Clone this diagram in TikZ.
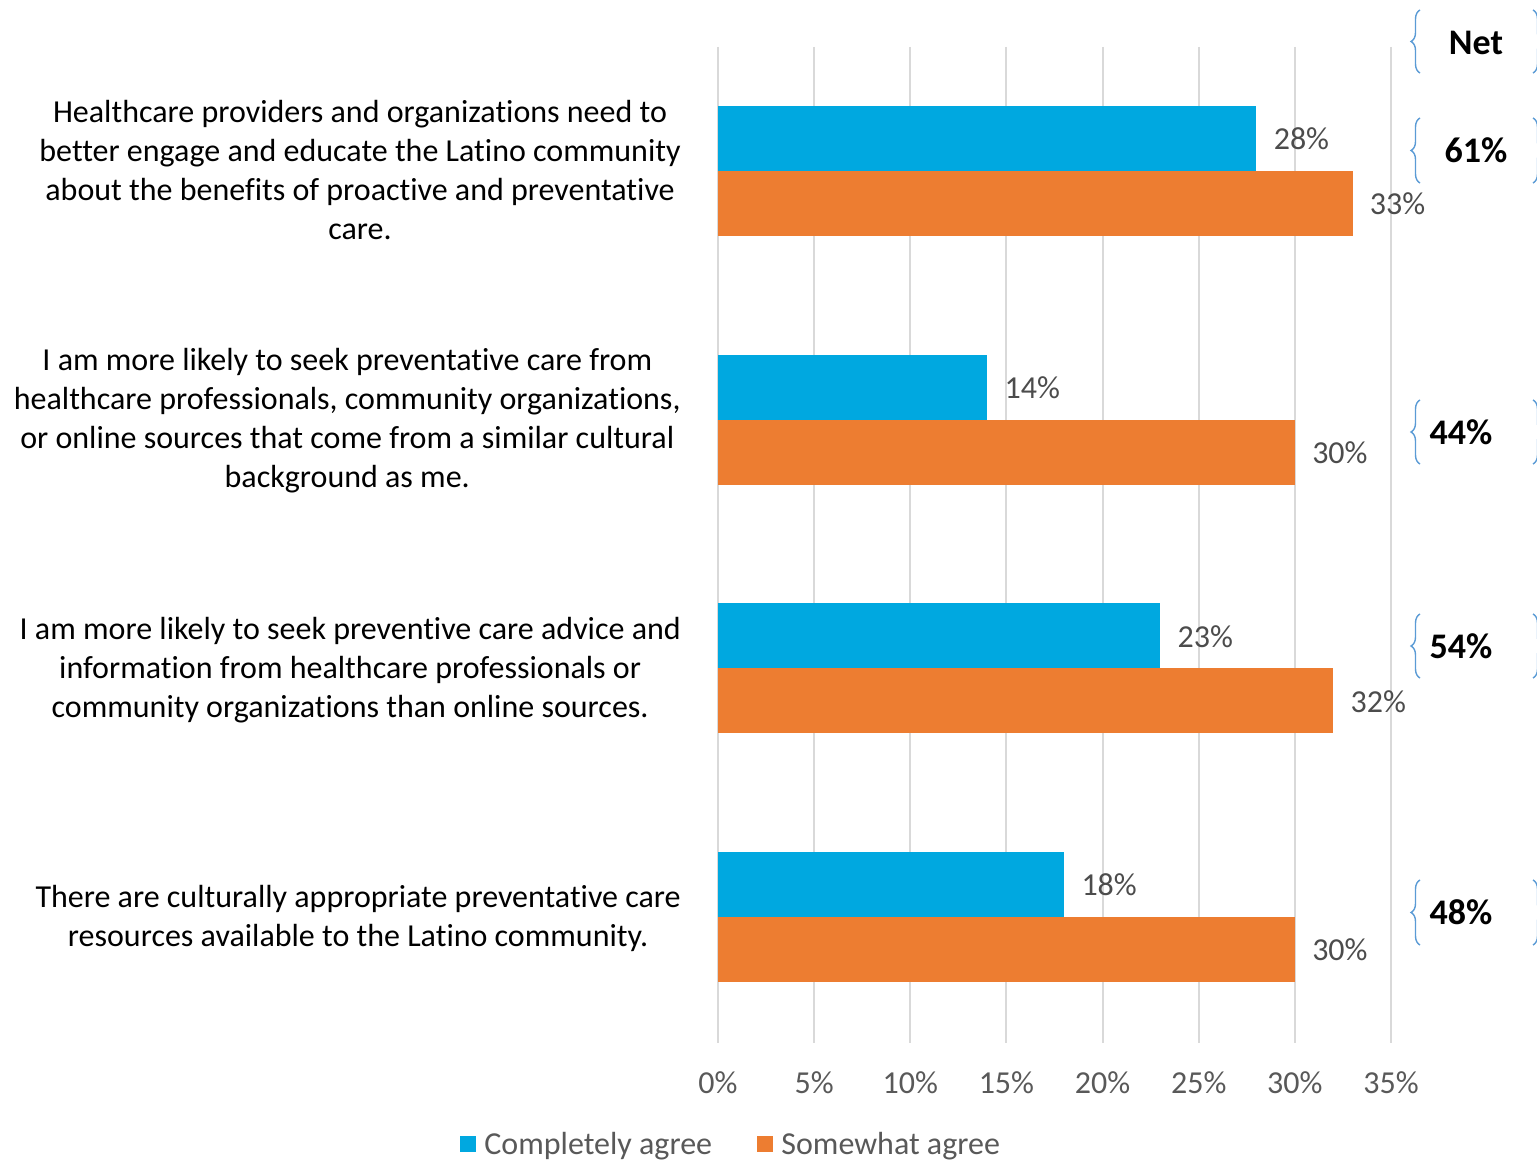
\documentclass[tikz,border=0pt]{standalone}
\usepackage{fontspec}
\setmainfont{Carlito}[Ligatures=NoCommon]
\usetikzlibrary{decorations.pathreplacing}
\definecolor{bblue}{HTML}{00A8E0}
\definecolor{oorange}{HTML}{ED7D31}
\definecolor{ggrid}{HTML}{D9D9D9}
\definecolor{ggray}{HTML}{595959}
\definecolor{bbrace}{HTML}{5B9BD5}

\begin{document}
\begin{tikzpicture}[x=0.5pt,y=-0.5pt,
  every node/.style={font=\fontsize{16pt}{19.5pt}\selectfont, inner sep=2pt},
  vallabel/.style={anchor=west, text=ggray!85!black},
  catlabel/.style={anchor=east, align=center, inner sep=0pt},
  netlabel/.style={font=\fontsize{18pt}{20pt}\selectfont\bfseries},
  netbrace/.style={bbrace, line width=0.7pt, decorate, decoration={brace,amplitude=4.5pt}}]
\useasboundingbox (0,0) rectangle (1537,1161);

% grid and axis labels
\foreach \p in {0,5,...,35}{
\draw[ggrid, line width=1pt] (718+19.228*\p,47) -- (718+19.228*\p,1043);
\node[text=ggray] (tick-\p) at (718+19.228*\p,1083) {\p\%};
}

% bars
\foreach \i/\b/\o in {0/28/33,1/14/30,2/23/32,3/18/30}{
\pgfmathsetmacro{\yy}{106+248.67*\i}
\fill[bblue] (718,\yy) rectangle (718+19.228*\b,\yy+65);
\fill[oorange] (718,\yy+65) rectangle (718+19.228*\o,\yy+130);
\node[vallabel] (val-b-\i) at (718+19.228*\b+13,\yy+33) {\b\%};
\node[vallabel] (val-o-\i) at (718+19.228*\o+13,\yy+98) {\o\%};
}

% statements
\node[catlabel] (cat-0) at (681,170) {Healthcare providers and organizations need to\\better engage and educate the Latino community\\about the benefits of proactive and preventative\\care.};
\node[catlabel] (cat-1) at (681,421) {I am more likely to seek preventative care from\\healthcare professionals, community organizations,\\or online sources that come from a similar cultural\\background as me.};
\node[catlabel] (cat-2) at (681,670) {I am more likely to seek preventive care advice and\\information from healthcare professionals or\\community organizations than online sources.};
\node[catlabel] (cat-3) at (681,918) {There are culturally appropriate preventative care\\resources available to the Latino community.};

% net column
\draw[netbrace] (1420,73) -- (1420,10);
\draw[netbrace] (1533,10) -- (1533,73);
\node[netlabel] (net) at (1476,43) {Net};
\foreach \t/\b/\x/\v in {118/183/1476/61,400/464/1461/44,614/678/1461/54,880/945/1461/48}{
\draw[netbrace] (1420,\b) -- (1420,\t);
\draw[netbrace] (1533,\t) -- (1533,\b);
\node[netlabel] (net-\v) at (\x,\t/2+\b/2) {\v\%};
}

% legend
\fill[bblue] (460,1136) rectangle (476,1152);
\node[anchor=west, text=ggray] (leg-b) at (480,1146) {Completely agree};
\fill[oorange] (757,1136) rectangle (773,1152);
\node[anchor=west, text=ggray] (leg-o) at (777,1146) {Somewhat agree};
\end{tikzpicture}
\end{document}
